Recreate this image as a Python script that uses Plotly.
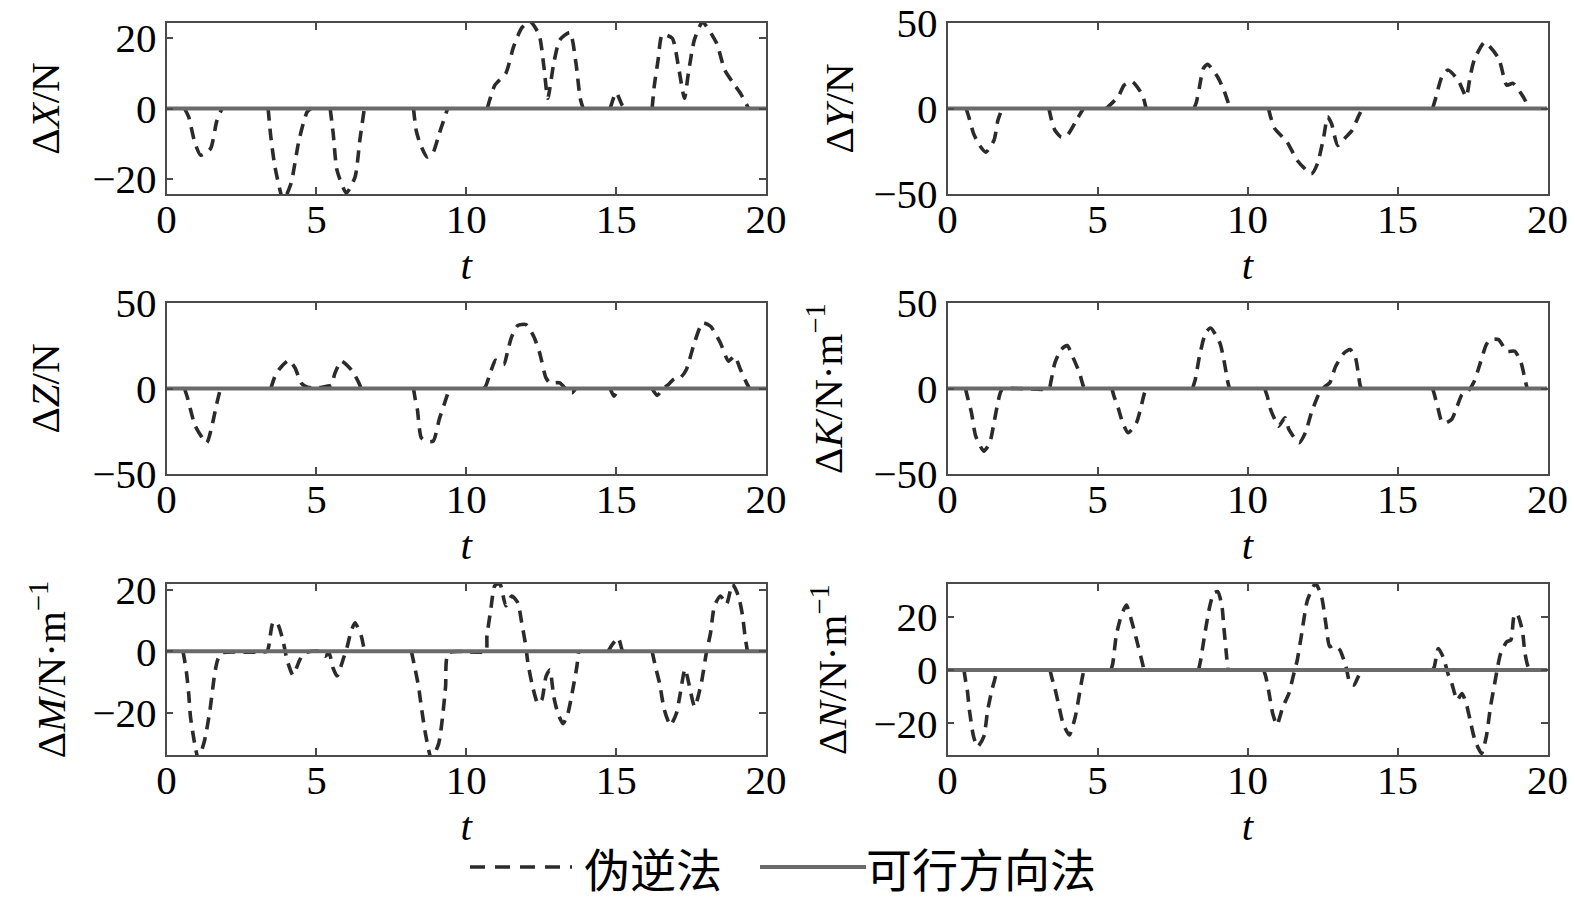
import plotly.graph_objects as go
from plotly.subplots import make_subplots

# ---------------- data ----------------
t_dx = [0, 0.6, 0.74, 0.94, 1.14, 1.47, 1.67, 1.85, 3.39, 3.48, 3.62, 3.9, 4.15, 4.42, 4.69, 4.82,
        5.46, 5.56, 5.69, 6.0, 6.29, 6.45, 6.6, 8.24, 8.33, 8.46, 8.7, 8.9, 9.1, 9.38,
        10.7, 10.96, 11.32, 11.58, 11.85, 12.12, 12.43, 12.59, 12.72, 12.92, 13.12, 13.46, 13.66, 13.8, 13.9,
        14.8, 15.0, 15.2, 15.3, 16.2, 16.27, 16.4, 16.54, 16.87, 17.08, 17.28, 17.41, 17.61, 17.88, 18.35,
        18.62, 18.95, 19.15, 19.42, 20]
dx = [0, 0, -2.4, -9.5, -13.3, -11.4, -3.8, 0, 0, -8, -16.7, -26, -21.4, -9, -1, 0,
      0, -7, -17.6, -24, -19.5, -9, 0, 0, -6.2, -10, -13.8, -12.4, -7.1, 0,
      0, 6.7, 10, 17.6, 22.9, 24.8, 21, 11.9, 2.9, 12.9, 19.5, 21.6, 12.9, 2.9, 0,
      0, 4.5, 1, 0, 0, 6.2, 13.8, 21, 20, 11.9, 2.9, 10, 19.5, 24.5, 18.6,
      11, 6.7, 4.3, 0, 0]

t_dy = [0, 0.62, 0.71, 0.87, 1.07, 1.28, 1.55, 1.68, 1.82, 3.38, 3.47, 3.58, 3.79, 3.99, 4.33, 4.53,
        5.28, 5.35, 5.69, 5.89, 6.16, 6.5, 6.62, 8.22, 8.3, 8.4, 8.53, 8.67, 9.0, 9.21, 9.42,
        10.7, 10.77, 10.91, 11.32, 11.66, 12.13, 12.33, 12.54, 12.67, 12.8, 13.01, 13.28, 13.49, 13.69, 13.83,
        16.17, 16.27, 16.48, 16.68, 17.02, 17.29, 17.42, 17.56, 17.9, 18.37, 18.64, 18.85, 19.19, 19.39, 20]
dy = [0, 0, -4.9, -14.7, -21.6, -25.5, -18.6, -6.9, 0, 0, -6.9, -12.7, -16.7, -15.7, -5.9, 0,
      0, 1, 6.9, 13.7, 15.7, 7.8, 0, 0, 3.9, 12.7, 23.5, 25.9, 18.6, 10.8, 0,
      0, -4.9, -11.8, -19.6, -30.4, -38.2, -32.4, -16.7, -4.9, -8.8, -21.6, -16.7, -12.7, -4.9, 0,
      0, 5.9, 18.6, 22.5, 16.7, 6.9, 18.6, 28.4, 38.6, 29.4, 13.7, 14.7, 6.9, 0, 0]

t_dz = [0, 0.6, 0.7, 0.8, 0.96, 1.34, 1.54, 1.67, 1.8, 3.48, 3.62, 3.75, 4.08, 4.29, 4.49, 4.62, 4.82,
        5.1, 5.36, 5.5, 5.62, 5.83, 6.16, 6.36, 6.5, 8.24, 8.3, 8.37, 8.5, 8.7, 8.9, 9.1, 9.28, 9.44,
        10.58, 10.65, 10.82, 10.98, 11.25, 11.38, 11.52, 11.72, 11.99, 12.25, 12.45, 12.66, 12.79, 13.12,
        13.39, 13.53, 13.65, 14.8, 14.93, 15.07, 16.2, 16.37, 16.54, 16.74, 16.94, 17.14, 17.34, 17.61,
        17.88, 18.15, 18.48, 18.75, 18.95, 19.15, 19.35, 19.45, 20]
dz = [0, 0, -5.4, -12.3, -22, -31.7, -20, -9.3, 0, 0, 7.2, 11, 16.5, 12, 3.3, 1.4, 0.4,
      0.5, 1.4, 2, 9, 16, 11, 5.3, 0, 0, -6.4, -12.3, -28.8, -31, -30.7, -18, -8.4, 0,
      0, 1.4, 10, 16.5, 14, 21.8, 30.5, 36.8, 37.4, 30.5, 20.8, 6.2, 3.3, 3.3,
      -1.6, -2.5, 0, 0, -4.5, 0, 0, -4, -0.6, 2.3, 5.6, 6.2, 11, 26.6,
      38.3, 36.4, 26.6, 16, 18.9, 11, 3.3, 0, 0]

t_dk = [0, 0.6, 0.66, 0.8, 0.94, 1.21, 1.41, 1.55, 1.68, 1.82, 3.38, 3.45, 3.58, 3.79, 3.99, 4.19, 4.4,
        4.53, 4.6, 5.48, 5.55, 5.69, 5.82, 6.02, 6.3, 6.43, 6.57, 6.65, 8.17, 8.26, 8.4, 8.6, 8.77,
        9.08, 9.21, 9.35, 9.4, 10.57, 10.66, 10.77, 10.91, 11.04, 11.25, 11.38, 11.72, 11.93, 12.13,
        12.4, 12.6, 12.74, 12.94, 13.22, 13.42, 13.6, 13.69, 13.76, 13.8, 16.17, 16.23, 16.36, 16.47,
        16.61, 16.81, 16.99, 17.15, 17.35, 17.56, 17.76, 17.96, 18.1, 18.37, 18.64, 18.91, 19.12,
        19.25, 19.32, 20]
dk = [0, 0, -4.5, -14.2, -27.8, -36.6, -31.7, -20, -8.4, -0.6, 0, 4.3, 15, 22.8, 25.1, 17.9, 9.1,
      1.4, 0, 0, -4.5, -11.3, -19, -25.9, -20, -12.3, -2.5, 0, 0, 5.3, 18.9, 32.5, 35.4,
      26.6, 16.9, 3.3, 0, 0, -4.5, -12.3, -18, -22, -17.1, -23.9, -31.7, -25.9, -14.2,
      -2.5, 1.4, 3.3, 13, 20.8, 22.8, 17.9, 9.1, 1.4, 0, 0, -3.5, -12.3, -19,
      -20, -18, -10.3, -3.5, -1.6, 4.3, 15, 25.7, 28.6, 28.6, 21.8, 21.8, 15,
      5.3, 0, 0]

t_dm = [0, 0.55, 0.6, 0.67, 0.74, 0.8, 0.94, 1.06, 1.27, 1.45, 1.61, 1.71, 1.85, 3.35, 3.41, 3.55,
        3.68, 3.88, 4.02, 4.22, 4.45, 4.62, 5.09, 5.29, 5.42, 5.56, 5.69, 5.89, 6.03, 6.16, 6.29, 6.5,
        6.59, 6.65, 8.17, 8.3, 8.41, 8.5, 8.64, 8.84, 9.08, 9.21, 9.31, 9.41, 10.65, 10.69, 10.82,
        10.95, 11.12, 11.32, 11.52, 11.72, 11.85, 11.99, 12.05, 12.19, 12.39, 12.52, 12.66, 12.79,
        12.92, 13.06, 13.23, 13.39, 13.53, 13.69, 13.75, 14.73, 14.87, 15.07, 15.2, 15.25, 16.2,
        16.31, 16.45, 16.61, 16.81, 17.01, 17.14, 17.3, 17.62, 17.84, 18.01, 18.15, 18.28, 18.48,
        18.68, 18.88, 19.08, 19.22, 19.3, 19.38, 20]
dm = [0, 0, -2.7, -7.1, -13.7, -21.3, -30, -35, -29, -19.1, -7.1, -2.7, -0.5, 0, 1.6, 9.3,
      9.5, 3.8, -2.7, -7.7, -2.7, -0.5, 0, -1.6, -0.5, -5.5, -8, -2.7, 1.6, 6.6, 9.3, 4.9,
      1.1, 0, 0, -6, -11.5, -18, -26.8, -35, -30, -21.3, -11.5, -0.5, 0, 4.9, 13.7,
      21.3, 22, 14.8, 18, 15.8, 9.3, 1.6, -3.3, -10.4, -17, -15.8, -8.2, -6,
      -14.8, -20.2, -23.5, -20.2, -13.7, -4.9, 0, 0, 2.2, 4.4, 0.5, 0, 0,
      -4.9, -10.4, -19.1, -24, -20.2, -13.7, -5.8, -18, -10.4, -0.5, 6, 14.8, 18,
      15.3, 21.9, 18, 11.5, 4.9, 0, 0]

t_dn = [0, 0.55, 0.6, 0.66, 0.73, 0.87, 1.0, 1.21, 1.34, 1.48, 1.57, 1.65, 3.42, 3.47, 3.58, 3.72,
        3.85, 4.06, 4.26, 4.42, 4.5, 4.55, 5.45, 5.51, 5.62, 5.75, 5.96, 6.16, 6.36, 6.5, 6.55,
        8.37, 8.44, 8.58, 8.74, 8.87, 9.01, 9.15, 9.21, 9.31, 9.35, 10.54, 10.61, 10.71, 10.84,
        10.98, 11.18, 11.38, 11.52, 11.66, 11.79, 12.0, 12.27, 12.47, 12.61, 12.74, 12.88, 13.08,
        13.28, 13.42, 13.55, 13.69, 13.76, 13.8, 16.17, 16.23, 16.36, 16.54, 16.68, 16.81, 16.99,
        17.15, 17.29, 17.42, 17.58, 17.8, 17.96, 18.1, 18.24, 18.34, 18.44, 18.64, 18.78, 18.88,
        18.98, 19.16, 19.25, 19.39, 20]
dn = [0, 0, -3.8, -7.5, -15, -25, -28.8, -25, -15, -7.5, -3.8, 0, 0, -2.5, -6.9, -13.8,
      -20, -24.4, -17.5, -7.5, -2.5, 0, 0, 2.5, 12.5, 18.8, 24.4, 17.5, 8.8, 2.5, 0,
      0, 3.8, 13.8, 23.8, 28.8, 29.4, 23.8, 16.3, 4.4, 0, 0, -2.5, -8.1, -16.3,
      -20.6, -13.8, -8.8, -2.5, 3.8, 12.5, 26.3, 32.5, 27.5, 17.5, 8.8, 9.4, 7.5,
      1.3, -5, -5.6, -2.5, -0.6, 0, 0, 1.3, 8.1, 4.4, -1.3, -5, -11.3,
      -8.8, -12.5, -18.8, -26.3, -31.3, -25, -13.8, -5, 1.3, 6.3, 10.6, 11.3, 20,
      21.3, 15, 6.3, 0.6, 0]

# feasible-direction method: zero deviation over the whole time span
t_fd = [0, 20]
fd = [0, 0]

y_titles = ["Δ<i>X</i>/N", "Δ<i>Y</i>/N", "Δ<i>Z</i>/N",
            "Δ<i>K</i>/N·m<sup>−1</sup>", "Δ<i>M</i>/N·m<sup>−1</sup>", "Δ<i>N</i>/N·m<sup>−1</sup>"]
y_ranges = [[-24.3, 24.3], [-50, 50], [-50, 50], [-50, 50], [-33.7, 21.9], [-31.9, 32.3]]
y_ticks = [[-20, 0, 20], [-50, 0, 50], [-50, 0, 50], [-50, 0, 50], [-20, 0, 20], [-20, 0, 20]]
x_ticks = [0, 5, 10, 15, 20]
series = [(t_dx, dx), (t_dy, dy), (t_dz, dz), (t_dk, dk), (t_dm, dm), (t_dn, dn)]
names = ["伪逆法", "可行方向法"]


def split_zero_runs(tt, yy):
    """Break the curve where it rests on zero (hidden under the reference line)."""
    xs, ys = [tt[0]], [yy[0]]
    for k in range(1, len(tt)):
        if yy[k - 1] == 0 and yy[k] == 0:
            xs.append(None)
            ys.append(None)
        xs.append(tt[k])
        ys.append(yy[k])
    return xs, ys


# ---------------- figure ----------------
W, H = 1575, 903
fig = make_subplots(rows=3, cols=2)

serif = "Liberation Serif, Times New Roman, serif"
cjk = "Noto Sans CJK SC, Liberation Serif, sans-serif"
col_x = [(166.5, 766), (947.5, 1547.5)]
row_y = [(23, 194), (303, 474), (584, 755)]
y_title_standoff = [20, 7, 20, 18, 14, 14]
DASH_COLOR = "#2b2b2b"
SOLID_COLOR = "#6a6a6a"

for i, (tt, yy) in enumerate(series):
    r, c = i // 2 + 1, i % 2 + 1
    xs, ys = split_zero_runs(tt, yy)
    fig.add_trace(go.Scatter(x=xs, y=ys, mode="lines", name=names[0], connectgaps=False,
                             line=dict(color=DASH_COLOR, width=3.6, dash="12px,8px",
                                       shape="spline", smoothing=0.6),
                             showlegend=False), row=r, col=c)
    fig.add_trace(go.Scatter(x=t_fd, y=fd, mode="lines", name=names[1],
                             line=dict(color=SOLID_COLOR, width=4),
                             showlegend=False), row=r, col=c)

for i in range(6):
    r, c = i // 2, i % 2
    xa = "xaxis" if i == 0 else f"xaxis{i+1}"
    ya = "yaxis" if i == 0 else f"yaxis{i+1}"
    x0, x1 = col_x[c]
    y0, y1 = row_y[r]
    common = dict(showline=True, linecolor="#4a4a4a", linewidth=1.6, mirror="ticks",
                  ticks="inside", ticklen=7, tickwidth=1.6, tickcolor="#4a4a4a",
                  showgrid=False, zeroline=False, automargin=False,
                  tickfont=dict(family=serif, size=41, color="black"))
    fig.layout[xa].update(domain=[x0 / W, x1 / W], range=[0, 20], tickvals=x_ticks,
                          ticklabelstandoff=-12,
                          title=dict(text="<i>t</i>", font=dict(family=serif, size=41, color="black"),
                                     standoff=0), **common)
    fig.layout[ya].update(domain=[1 - y1 / H, 1 - y0 / H], range=y_ranges[i], tickvals=y_ticks[i],
                          ticklabelstandoff=0,
                          title=dict(text=y_titles[i], font=dict(family=serif, size=41, color="black"),
                                     standoff=y_title_standoff[i]), **common)

# legend drawn below the panels
LY = 1 - 867 / H
fig.add_shape(type="line", xref="paper", yref="paper", x0=470 / W, x1=572 / W, y0=LY, y1=LY,
              line=dict(color=DASH_COLOR, width=3.6, dash="15px,10px"))
fig.add_annotation(xref="paper", yref="paper", x=582 / W, y=LY, xanchor="left", yanchor="middle",
                   text=names[0], showarrow=False, font=dict(family=cjk, size=46, color="black"))
fig.add_shape(type="line", xref="paper", yref="paper", x0=760 / W, x1=866 / W, y0=LY, y1=LY,
              line=dict(color=SOLID_COLOR, width=4))
fig.add_annotation(xref="paper", yref="paper", x=864 / W, y=LY, xanchor="left", yanchor="middle",
                   text=names[1], showarrow=False, font=dict(family=cjk, size=46, color="black"))

fig.update_layout(
    width=W, height=H,
    margin=dict(l=0, r=0, t=0, b=0, autoexpand=False),
    paper_bgcolor="white", plot_bgcolor="white",
    showlegend=False,
)

fig.write_html("out.html", config={"displayModeBar": False},
               post_script="document.body.style.margin='0';document.body.style.overflow='hidden';")
